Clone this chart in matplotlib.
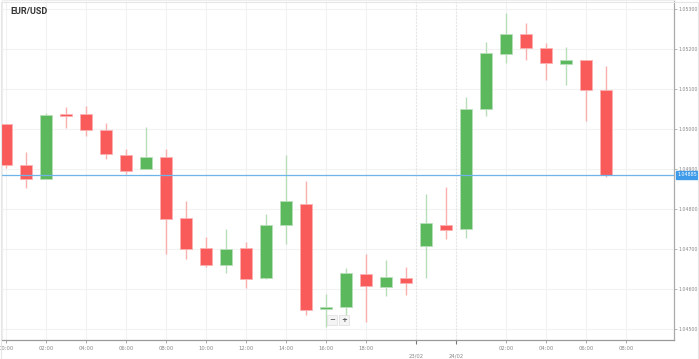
import matplotlib
matplotlib.use("Agg")
import matplotlib.pyplot as plt
from matplotlib.patches import Rectangle

title = "EUR/USD"
opens  = [1.050125, 1.04910, 1.04875, 1.050375, 1.050375, 1.049975, 1.04935, 1.04900, 1.04930, 1.047775,
          1.047025, 1.04660, 1.047025, 1.046275, 1.04760, 1.048125, 1.04550, 1.04555, 1.046375, 1.04605,
          1.046275, 1.047075, 1.04760, 1.04750, 1.05050, 1.051875, 1.052375, 1.052025, 1.051625, 1.051725,
          1.050975]
highs  = [1.05013, 1.049425, 1.05040, 1.05055, 1.050575, 1.05015, 1.04950, 1.05005, 1.04950, 1.04820,
          1.04730, 1.04750, 1.047175, 1.047875, 1.04935, 1.04870, 1.045875, 1.046525, 1.046875, 1.046725,
          1.04655, 1.048375, 1.04855, 1.05080, 1.052175, 1.05290, 1.05265, 1.05215, 1.05205, 1.051725,
          1.051575]
lows   = [1.049025, 1.048525, 1.04875, 1.050025, 1.049825, 1.04925, 1.048875, 1.04900, 1.046875, 1.04675,
          1.04655, 1.04640, 1.046025, 1.04625, 1.047125, 1.04535, 1.04505, 1.045325, 1.045175, 1.045825,
          1.04585, 1.046275, 1.04725, 1.047275, 1.050325, 1.05165, 1.051725, 1.051225, 1.05110, 1.05020,
          1.04880]
closes = [1.04910, 1.04875, 1.05035, 1.050325, 1.049975, 1.049375, 1.04895, 1.04930, 1.04775, 1.04700,
          1.04660, 1.04700, 1.04625, 1.04760, 1.04820, 1.045475, 1.04555, 1.04640, 1.046075, 1.04630,
          1.04615, 1.04765, 1.047475, 1.05050, 1.05190, 1.052375, 1.052025, 1.05165, 1.051725, 1.050975,
          1.04885]
current_price = 1.04885

x_tick_pos = [0, 2, 4, 6, 8, 10, 12, 14, 16, 18, 25, 27, 29, 31]
x_tick_labels = ["00:00", "02:00", "04:00", "06:00", "08:00", "10:00", "12:00", "14:00", "16:00",
                 "18:00", "02:00", "04:00", "06:00", "08:00"]
day_tick_pos = [20.5, 22.5]
day_tick_labels = ["23/02", "24/02"]
y_ticks = [1.045, 1.046, 1.047, 1.048, 1.049, 1.050, 1.051, 1.052, 1.053]

GREEN = "#5cb85c"
GREEN_W = "#b8dfb8"
RED = "#f95b5b"
RED_W = "#fbb0b0"

W, H = 699, 359
fig = plt.figure(figsize=(W / 100, H / 100), dpi=100)
fig.patch.set_facecolor("white")
ax = fig.add_axes([2 / W, 1 - 340 / H, (674 - 2) / W, 340 / H])
ax.set_facecolor("white")

bw = 0.62
for i, (o, h, l, c) in enumerate(zip(opens, highs, lows, closes)):
    up = c >= o
    col = GREEN if up else RED
    wcol = GREEN_W if up else RED_W
    ax.vlines(i, l, h, color=wcol, lw=1.0, zorder=2)
    lo, hi = min(o, c), max(o, c)
    hgt = max(hi - lo, 0.00005)
    if hi - lo < 0.00005:
        lo = (o + c) / 2 - 0.000025
    ax.add_patch(Rectangle((i - bw / 2, lo), bw, hgt, facecolor=col,
                           edgecolor=wcol, lw=0.6, zorder=3))

ax.set_xlim(-0.2, 33.4)
ax.set_ylim(1.044725, 1.053225)

# grid
for p in y_ticks:
    ax.axhline(p, color="#f2f2f2", lw=0.8, zorder=0)
for p in x_tick_pos:
    ax.axvline(p, color="#f2f2f2", lw=0.8, zorder=0)
for p in day_tick_pos:
    ax.axvline(p, color="#e6e6e6", lw=0.8, ls=(0, (2, 1)), zorder=0)

ax.axhline(current_price, color="#6cb4ea", lw=0.9, zorder=4)

ax.set_xticks(x_tick_pos)
ax.set_xticklabels(x_tick_labels)
ax.set_xticks(day_tick_pos, minor=True)
ax.set_xticklabels(day_tick_labels, minor=True)
ax.tick_params(axis="x", which="major", labelsize=3.8, colors="#999999", length=2, width=0.6,
               pad=2, labelcolor="#888888")
ax.tick_params(axis="x", which="minor", labelsize=3.8, colors="#777777", length=3, width=0.8,
               pad=6.5, labelcolor="#888888")

ax.yaxis.tick_right()
ax.set_yticks(y_ticks)
ax.set_yticklabels([f"{v:.5f}" for v in y_ticks])
ax.tick_params(axis="y", labelsize=3.4, colors="#aaaaaa", length=2, width=0.6, pad=1.2,
               labelcolor="#888888")

for s in ["top", "left"]:
    ax.spines[s].set_color("#eeeeee")
    ax.spines[s].set_linewidth(0.8)
ax.spines["bottom"].set_color("#999999")
ax.spines["bottom"].set_linewidth(0.9)
ax.spines["right"].set_color("#aaaaaa")
ax.spines["right"].set_linewidth(0.9)

# current price label
ax.annotate(f"{current_price:.5f}", xy=(1.0, current_price), xycoords=("axes fraction", "data"),
            xytext=(2.5, 0), textcoords="offset points", va="center", ha="left",
            fontsize=3.4, color="white",
            bbox=dict(boxstyle="square,pad=0.25", facecolor="#3d9be9", edgecolor="#3d9be9"))

# title
fig.text(10 / W, 1 - 12 / H, title, fontsize=6.5, fontweight="bold", color="#333333",
         va="center", ha="left", family="Roboto")

# zoom buttons
for tx, t in [(332 / W, "\u2212"), (344 / W, "+")]:
    fig.text(tx, 1 - 320 / H, t, fontsize=5, fontweight="bold", color="#555555",
             ha="center", va="center",
             bbox=dict(boxstyle="square,pad=0.35", facecolor="#f4f4f4", edgecolor="#dddddd", lw=0.5))

# outer border
fig.patches.append(Rectangle((0.5 / W, 0.5 / H), 697 / W, 357 / H, transform=fig.transFigure,
                             fill=False, edgecolor="#e6e6e6", lw=0.8))

fig.savefig("out.png", dpi=100)
